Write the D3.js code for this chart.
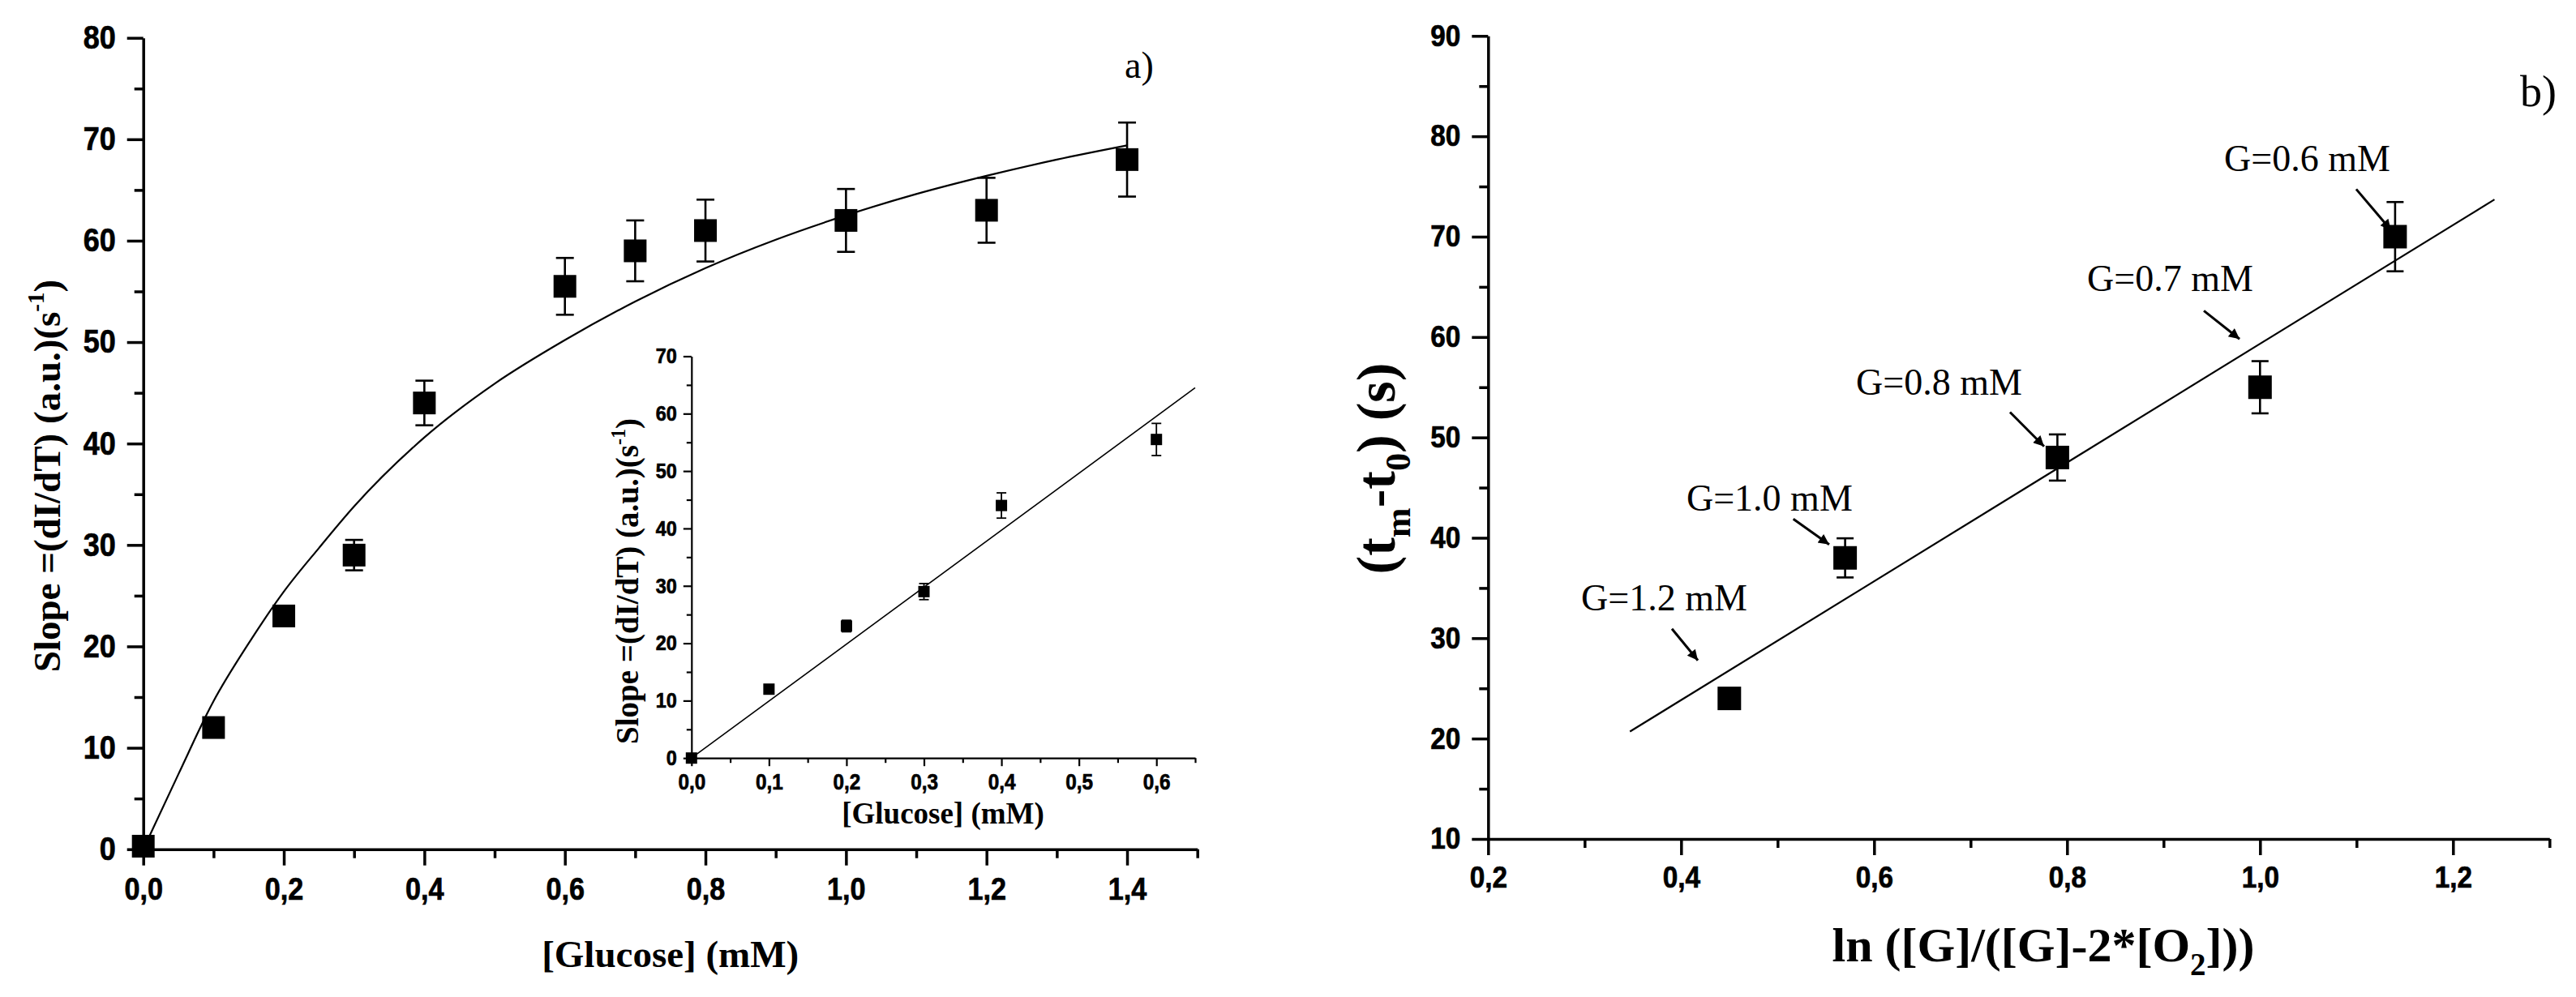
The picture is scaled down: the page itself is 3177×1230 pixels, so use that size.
<!DOCTYPE html>
<html><head><meta charset="utf-8">
<script src="https://cdn.jsdelivr.net/npm/d3@7"></script>
<style>
html,body{margin:0;padding:0;background:#fff;}
svg{display:block;}
.tick text{font-family:"Liberation Sans",Arial,sans-serif;font-weight:bold;fill:#000;stroke:#000;stroke-width:0.7px;}
.ttl{font-family:"Liberation Serif","Times New Roman",serif;font-weight:bold;fill:#000;}
.ann{font-family:"Liberation Serif","Times New Roman",serif;font-weight:normal;fill:#000;}
</style></head><body>
<svg id="chart" width="3177" height="1230"></svg>
<script>
// ---------- data ----------
// panel a) main
const glucose      = [0, 0.1, 0.2, 0.3, 0.4, 0.6, 0.7, 0.8, 1.0, 1.2, 1.4];
const slope        = [0.3, 12, 23, 29, 44, 55.5, 59, 61, 62, 63, 68];
const slopeErr     = [0, 0.5, 0.8, 1.5, 2.2, 2.8, 3.0, 3.05, 3.1, 3.2, 3.65];
const fitX         = [0, 0.05, 0.1, 0.15, 0.2, 0.25, 0.3, 0.4, 0.5, 0.6, 0.7, 0.8, 0.9, 1.0, 1.1, 1.2, 1.3, 1.4];
const fitY         = [0, 7.4, 14.6, 20.3, 25.4, 29.7, 33.8, 40.6, 45.9, 50.2, 54.0, 57.3, 60.1, 62.5, 64.6, 66.4, 68.0, 69.4];
// panel a) inset
const insetGlucose = [0, 0.1, 0.2, 0.3, 0.4, 0.6];
const insetSlope   = [0, 12, 23, 29, 44, 55.5];
const insetErr     = [0, 0.6, 1.0, 1.4, 2.2, 2.8];
const insetFitX    = [0, 0.65];
const insetFitY    = [0, 64.5];
// panel b)
const lnRatio      = [0.45, 0.57, 0.79, 1.0, 1.14];
const tmt0         = [24, 38, 48, 55, 70];
const tmt0Err      = [0.8, 1.95, 2.3, 2.6, 3.45];
const linFitX      = [0.347, 1.243];
const linFitY      = [20.7, 73.7];
const annotLabels  = ["G=1.2 mM", "G=1.0 mM", "G=0.8 mM", "G=0.7 mM", "G=0.6 mM"];
// tick labels
const mainXTicks   = [0, 0.2, 0.4, 0.6, 0.8, 1.0, 1.2, 1.4];
const mainXMinor   = [0.1, 0.3, 0.5, 0.7, 0.9, 1.1, 1.3, 1.5];
const mainYTicks   = [0, 10, 20, 30, 40, 50, 60, 70, 80];
const mainYMinor   = [5, 15, 25, 35, 45, 55, 65, 75];
const insetXTicks  = [0, 0.1, 0.2, 0.3, 0.4, 0.5, 0.6];
const insetXMinor  = [0.05, 0.15, 0.25, 0.35, 0.45, 0.55, 0.65];
const insetYTicks  = [0, 10, 20, 30, 40, 50, 60, 70];
const insetYMinor  = [5, 15, 25, 35, 45, 55, 65];
const rightXTicks  = [0.2, 0.4, 0.6, 0.8, 1.0, 1.2];
const rightXMinor  = [0.3, 0.5, 0.7, 0.9, 1.1, 1.3];
const rightYTicks  = [10, 20, 30, 40, 50, 60, 70, 80, 90];
const rightYMinor  = [15, 25, 35, 45, 55, 65, 75, 85];

// ---------- layout ----------
// annotation anchors (data units of panel b): text start, arrow start, arrow end
const annotLayout = [
  {tx:0.2964, ty:32.74, x1:0.3905, y1:30.94, x2:0.4174, y2:27.78},
  {tx:0.4056, ty:42.71, x1:0.5163, y1:41.87, x2:0.5535, y2:39.33},
  {tx:0.5813, ty:54.27, x1:0.7409, y1:52.51, x2:0.7762, y2:49.10},
  {tx:0.8208, ty:64.55, x1:0.9418, y1:62.62, x2:0.9788, y2:59.80},
  {tx:0.9628, ty:76.56, x1:1.0997, y1:74.73, x2:1.1358, y2:70.65}
];

const svg = d3.select("#chart");
svg.append("rect").attr("width",3177).attr("height",1230).attr("fill","#fff");
svg.append("defs").append("marker")
  .attr("id","arr").attr("viewBox","0 0 10 10").attr("refX",10).attr("refY",5)
  .attr("markerWidth",20).attr("markerHeight",13).attr("markerUnits","userSpaceOnUse")
  .attr("orient","auto")
  .append("path").attr("d","M0,0 L10,5 L0,10 z").attr("fill","#000");

const fmt = d => d3.format(".1f")(d).replace(".", ",");

// scales
const xMain  = d3.scaleLinear().domain([0, 1.5]).range([176.7, 1476.7]);
const yMain  = d3.scaleLinear().domain([0, 80]).range([1047.7, 46.7]);
const xIn    = d3.scaleLinear().domain([0, 0.65]).range([852.8, 1474]);
const yIn    = d3.scaleLinear().domain([0, 70]).range([935.2, 439.5]);
const xR     = d3.scaleLinear().domain([0.2, 1.3]).range([1835.3, 3144.3]);
const yR     = d3.scaleLinear().domain([10, 90]).range([1035, 44.3]);

const SX = 0.9; // horizontal squeeze of the narrow tick font
function drawAxes(xs, ys, o) {
  const gx = svg.append("g").attr("transform", `translate(0,${ys.range()[0]})`);
  gx.call(d3.axisBottom(xs).tickValues(o.xT).tickFormat(o.xF).tickSize(o.maj).tickSizeOuter(0).tickPadding(o.xPad));
  const gxm = svg.append("g").attr("transform", `translate(0,${ys.range()[0]})`);
  gxm.call(d3.axisBottom(xs).tickValues(o.xM).tickFormat("").tickSize(o.min).tickSizeOuter(0));
  gxm.select(".domain").remove();
  const gy = svg.append("g").attr("transform", `translate(${xs.range()[0]},0)`);
  gy.call(d3.axisLeft(ys).tickValues(o.yT).tickFormat(o.yF).tickSize(o.maj).tickSizeOuter(0).tickPadding(o.yPad));
  const gym = svg.append("g").attr("transform", `translate(${xs.range()[0]},0)`);
  gym.call(d3.axisLeft(ys).tickValues(o.yM).tickFormat("").tickSize(o.min).tickSizeOuter(0));
  gym.select(".domain").remove();
  [gx, gxm, gy, gym].forEach(g => {
    g.selectAll("path,line").attr("stroke","#000").attr("stroke-width", o.sw);
  });
  gx.selectAll(".tick text").attr("font-size", o.xfs).attr("transform", `scale(${SX},1)`);
  gy.selectAll(".tick text").attr("font-size", o.yfs)
    .attr("x", -(o.maj + o.yPad) / SX).attr("transform", `scale(${SX},1)`);
}

drawAxes(xMain, yMain, {xT:mainXTicks, xM:mainXMinor, yT:mainYTicks, yM:mainYMinor,
  xF:fmt, yF:d3.format("d"), maj:20, min:11, sw:3.5, xPad:15, yPad:14, xfs:38, yfs:40});
drawAxes(xR, yR, {xT:rightXTicks, xM:rightXMinor, yT:rightYTicks, yM:rightYMinor,
  xF:fmt, yF:d3.format("d"), maj:20, min:11, sw:3.5, xPad:14, yPad:14, xfs:37, yfs:37});
drawAxes(xIn, yIn, {xT:insetXTicks, xM:insetXMinor, yT:insetYTicks, yM:insetYMinor,
  xF:fmt, yF:d3.format("d"), maj:10, min:6, sw:2.2, xPad:10, yPad:8, xfs:27, yfs:26});

function drawSeries(xs, ys, xv, yv, ev, sq, cap, sw) {
  const g = svg.append("g");
  xv.forEach((x, i) => {
    const cx = xs(x), cy = ys(yv[i]);
    if (ev[i] > 0) {
      const top = ys(yv[i] + ev[i]), bot = ys(yv[i] - ev[i]);
      g.append("line").attr("x1",cx).attr("x2",cx).attr("y1",top).attr("y2",bot)
        .attr("stroke","#000").attr("stroke-width",sw);
      g.append("line").attr("x1",cx-cap/2).attr("x2",cx+cap/2).attr("y1",top).attr("y2",top)
        .attr("stroke","#000").attr("stroke-width",sw);
      g.append("line").attr("x1",cx-cap/2).attr("x2",cx+cap/2).attr("y1",bot).attr("y2",bot)
        .attr("stroke","#000").attr("stroke-width",sw);
    }
    g.append("rect").attr("x",cx-sq/2).attr("y",cy-sq/2).attr("width",sq).attr("height",sq).attr("fill","#000");
  });
}

function drawLine(xs, ys, xv, yv, sw, curve) {
  const line = d3.line().x(d => xs(d[0])).y(d => ys(d[1])).curve(curve);
  svg.append("path").attr("d", line(xv.map((x, i) => [x, yv[i]])))
    .attr("fill","none").attr("stroke","#000").attr("stroke-width",sw);
}

// panel a) main
drawLine(xMain, yMain, fitX, fitY, 2.2, d3.curveMonotoneX);
drawSeries(xMain, yMain, glucose, slope, slopeErr, 28, 22, 2.6);
// inset
drawLine(xIn, yIn, insetFitX, insetFitY, 1.6, d3.curveLinear);
drawSeries(xIn, yIn, insetGlucose, insetSlope, insetErr, 14, 12, 1.8);
// panel b)
drawLine(xR, yR, linFitX, linFitY, 2.2, d3.curveLinear);
drawSeries(xR, yR, lnRatio, tmt0, tmt0Err, 29, 21, 2.6);

// annotations
annotLabels.forEach((lab, i) => {
  const a = annotLayout[i];
  svg.append("text").attr("class","ann").attr("x", xR(a.tx)).attr("y", yR(a.ty))
    .attr("font-size", 46).text(lab);
  svg.append("line").attr("x1", xR(a.x1)).attr("y1", yR(a.y1)).attr("x2", xR(a.x2)).attr("y2", yR(a.y2))
    .attr("stroke","#000").attr("stroke-width",3).attr("marker-end","url(#arr)");
});

// rich text helper (sub/superscripts)
function rich(x, y, rot, fs, anchor, parts, cls) {
  const t = svg.append("text").attr("class", cls || "ttl").attr("font-size", fs)
    .attr("text-anchor", anchor)
    .attr("transform", `translate(${x},${y})` + (rot ? ` rotate(${rot})` : ""));
  let shift = 0;
  parts.forEach(p => {
    const ts = t.append("tspan").text(p.t);
    let target = 0, size = fs;
    if (p.sup) { target = -0.42 * fs; size = 0.62 * fs; }
    if (p.sub) { target = 0.28 * fs; size = 0.65 * fs; }
    ts.attr("dy", target - shift).attr("font-size", size);
    shift = target;
  });
  return t;
}

// titles
rich(74, 587, -90, 47, "middle", [{t:"Slope =(dI/dT) (a.u.)(s"},{t:"-1", sup:true},{t:")"}]);
rich(826.7, 1193, 0, 47, "middle", [{t:"[Glucose] (mM)"}]);
rich(787, 717, -90, 39, "middle", [{t:"Slope =(dI/dT) (a.u.)(s"},{t:"-1", sup:true},{t:")"}]);
rich(1163, 1016, 0, 37, "middle", [{t:"[Glucose] (mM)"}]);
rich(1720, 578, -90, 68, "middle", [{t:"(t"},{t:"m", sub:true},{t:"-t"},{t:"0", sub:true},{t:") (s)"}]);
rich(2520, 1186, 0, 60, "middle", [{t:"ln ([G]/([G]-2*[O"},{t:"2", sub:true},{t:"]))"}]);

// panel labels
svg.append("text").attr("class","ann").attr("x",1387).attr("y",96).attr("font-size",46).text("a)");
svg.append("text").attr("class","ann").attr("x",3108).attr("y",131).attr("font-size",54).text("b)");
</script>
</body></html>
